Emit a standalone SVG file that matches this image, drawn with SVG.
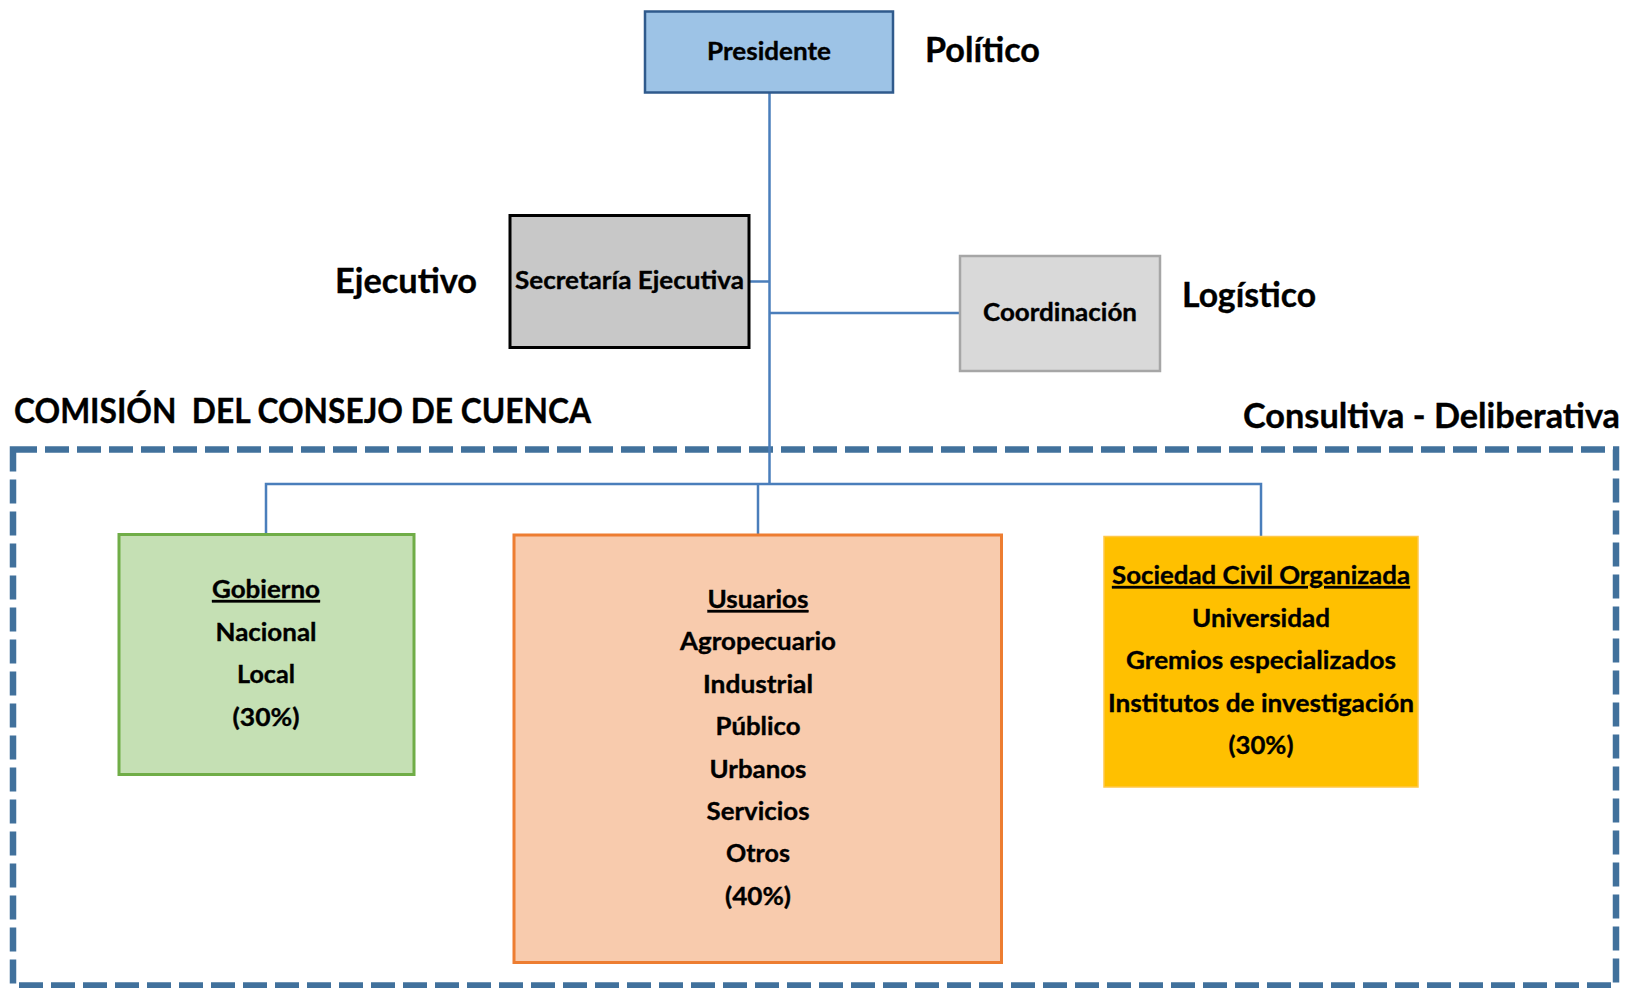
<svg xmlns="http://www.w3.org/2000/svg" width="1632" height="988" viewBox="0 0 1632 988">
<style>
  text { font-family: Lato, "Open Sans", "Liberation Sans", sans-serif; font-weight: bold; fill: #000; stroke: #000; stroke-width: 0.35; }
  .t { font-size: 24.5px; text-anchor: middle; }
  .big { font-size: 34px; }
  .u { text-decoration: underline; }
  .conn { fill: none; stroke: #4A7EBB; stroke-width: 2.5; }
</style>
<rect width="1632" height="988" fill="#fff"/>

<g id="frame">
  <rect x="13" y="449.5" width="1603" height="536" fill="none" stroke="#41719C" stroke-width="6.5" stroke-dasharray="24 8"/>
  <text class="big" x="14" y="423" xml:space="preserve" textLength="577" lengthAdjust="spacingAndGlyphs">COMISIÓN  DEL CONSEJO DE CUENCA</text>
  <text class="big" x="1243" y="428" textLength="377" lengthAdjust="spacingAndGlyphs">Consultiva - Deliberativa</text>
</g>

<g id="connectors">
  <line class="conn" x1="769.5" y1="92" x2="769.5" y2="484"/>
  <line class="conn" x1="749" y1="281.5" x2="769.5" y2="281.5"/>
  <line class="conn" x1="769.5" y1="313" x2="960" y2="313"/>
  <polyline class="conn" points="266,534 266,484 1261,484 1261,536"/>
  <line class="conn" x1="758" y1="484" x2="758" y2="534"/>
</g>

<g id="presidente">
  <rect x="645" y="11.5" width="248" height="81" fill="#9DC3E6" stroke="#2F5A8C" stroke-width="2.5"/>
  <text class="t" x="769" y="60" textLength="124" lengthAdjust="spacingAndGlyphs">Presidente</text>
</g>
<text id="lbl-politico" class="big" x="925" y="62" textLength="115" lengthAdjust="spacingAndGlyphs">Político</text>

<g id="secretaria">
  <rect x="510" y="215.5" width="239" height="132" fill="#C8C8C8" stroke="#000" stroke-width="3"/>
  <text class="t" x="629.5" y="289" textLength="229" lengthAdjust="spacingAndGlyphs">Secretaría Ejecutiva</text>
</g>
<text id="lbl-ejecutivo" class="big" x="335" y="293" textLength="142" lengthAdjust="spacingAndGlyphs">Ejecutivo</text>

<g id="coordinacion">
  <rect x="960" y="256" width="200" height="115" fill="#D9D9D9" stroke="#A6A6A6" stroke-width="2.5"/>
  <text class="t" x="1060" y="321" textLength="154" lengthAdjust="spacingAndGlyphs">Coordinación</text>
</g>
<text id="lbl-logistico" class="big" x="1182" y="307" textLength="134" lengthAdjust="spacingAndGlyphs">Logístico</text>

<g id="gobierno">
  <rect x="119" y="534.5" width="295" height="240" fill="#C5E0B4" stroke="#70AD47" stroke-width="3"/>
  <text class="t u" x="266" y="598" textLength="108" lengthAdjust="spacingAndGlyphs">Gobierno</text>
  <text class="t" x="266" y="641" textLength="101" lengthAdjust="spacingAndGlyphs">Nacional</text>
  <text class="t" x="266" y="683" textLength="58" lengthAdjust="spacingAndGlyphs">Local</text>
  <text class="t" x="266" y="726" textLength="67" lengthAdjust="spacingAndGlyphs">(30%)</text>
</g>

<g id="usuarios">
  <rect x="514" y="535" width="487.5" height="427.5" fill="#F8CBAD" stroke="#ED7D31" stroke-width="3"/>
  <text class="t u" x="758" y="608" textLength="101" lengthAdjust="spacingAndGlyphs">Usuarios</text>
  <text class="t" x="758" y="650" textLength="156" lengthAdjust="spacingAndGlyphs">Agropecuario</text>
  <text class="t" x="758" y="693" textLength="110" lengthAdjust="spacingAndGlyphs">Industrial</text>
  <text class="t" x="758" y="735" textLength="85" lengthAdjust="spacingAndGlyphs">Público</text>
  <text class="t" x="758" y="778" textLength="97" lengthAdjust="spacingAndGlyphs">Urbanos</text>
  <text class="t" x="758" y="820" textLength="103" lengthAdjust="spacingAndGlyphs">Servicios</text>
  <text class="t" x="758" y="862" textLength="64" lengthAdjust="spacingAndGlyphs">Otros</text>
  <text class="t" x="758" y="905" textLength="66" lengthAdjust="spacingAndGlyphs">(40%)</text>
</g>

<g id="sociedad">
  <rect x="1104" y="536.5" width="314" height="250.5" fill="#FFC000" stroke="#FFC84A" stroke-width="1.5"/>
  <text class="t u" x="1261" y="584" textLength="298" lengthAdjust="spacingAndGlyphs">Sociedad Civil Organizada</text>
  <text class="t" x="1261" y="627" textLength="138" lengthAdjust="spacingAndGlyphs">Universidad</text>
  <text class="t" x="1261" y="669" textLength="270" lengthAdjust="spacingAndGlyphs">Gremios especializados</text>
  <text class="t" x="1261" y="712" textLength="306" lengthAdjust="spacingAndGlyphs">Institutos de investigación</text>
  <text class="t" x="1261" y="754" textLength="65" lengthAdjust="spacingAndGlyphs">(30%)</text>
</g>
</svg>
